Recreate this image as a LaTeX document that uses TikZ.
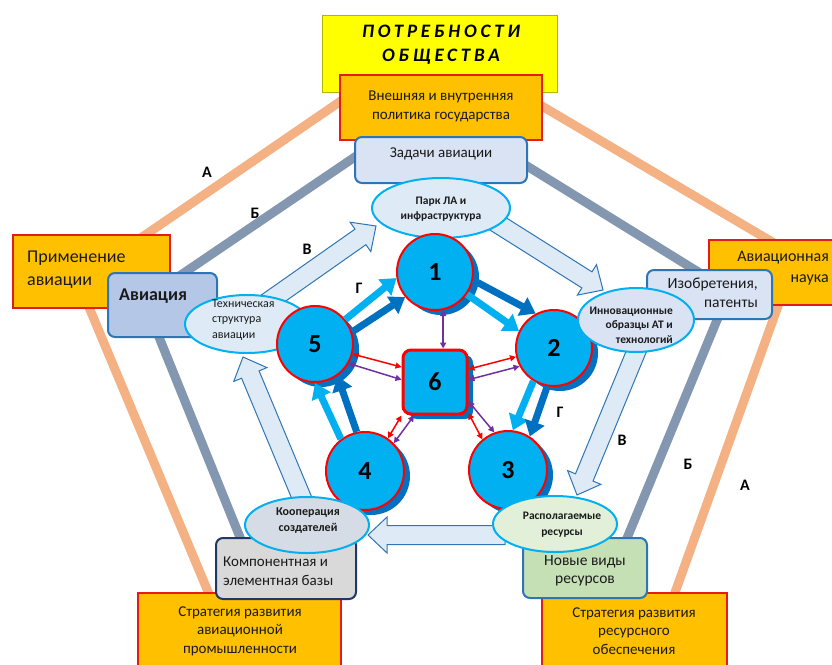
\documentclass[tikz,border=0pt]{standalone}
\usepackage{fontspec}
\setmainfont{Carlito}
\newfontfamily\spacedfont[LetterSpace=20]{Carlito}
\usetikzlibrary{calc,arrows.meta,shapes.geometric}
\definecolor{linA}{HTML}{F4B183}
\definecolor{linB}{HTML}{8497B0}
\definecolor{yel}{HTML}{FFFF00}
\definecolor{yelb}{HTML}{B5B500}
\definecolor{org}{HTML}{FFC000}
\definecolor{redb}{HTML}{E41B17}
\definecolor{blueb}{HTML}{2E75B6}
\definecolor{lblue}{HTML}{DAE3F3}
\definecolor{avblue}{HTML}{B4C7E7}
\definecolor{lgreen}{HTML}{C5E0B4}
\definecolor{lgray}{HTML}{D9D9D9}
\definecolor{navyb}{HTML}{203864}
\definecolor{cyanb}{HTML}{00B0F0}
\definecolor{ellblue}{HTML}{DEEBF7}
\definecolor{ellgreen}{HTML}{E2F0D9}
\definecolor{ellgray}{HTML}{D6DCE5}
\definecolor{ballc}{HTML}{00B0F0}
\definecolor{shadc}{HTML}{0070C0}
\definecolor{arrfill}{HTML}{DEEBF7}
\definecolor{purp}{HTML}{7030A0}
\definecolor{txtc}{HTML}{1A1A1A}
\tikzset{
  lineA/.style={draw=linA, line width=9pt},
  lineB/.style={draw=linB, line width=9pt},
  yelbox/.style={rectangle, draw=yelb, line width=1pt, fill=yel, inner sep=0pt},
  orgbox/.style={rectangle, draw=redb, line width=2pt, fill=org, inner sep=0pt},
  rbox/.style={rectangle, draw=blueb, line width=2pt, rounded corners=7pt, inner sep=0pt},
  ell/.style={ellipse, draw=cyanb, line width=2pt, inner sep=0pt},
  ball/.style={circle, draw=red, line width=2pt, fill=ballc, inner sep=0pt,
    font=\fontsize{26}{30}\selectfont\bfseries,
    preaction={fill=shadc, transform canvas={shift={(6pt,-5pt)}}}},
  sqball/.style={rectangle, rounded corners=8pt, draw=red, line width=3pt, fill=ballc, inner sep=0pt,
    minimum size=64pt, font=\fontsize{26}{30}\selectfont\bfseries,
    preaction={fill=shadc, transform canvas={shift={(6pt,-5pt)}}}},
  bigarr/.style={draw=blueb, line width=1pt, fill=arrfill, line join=miter},
  fatarr/.style={line width=7pt, -{Triangle[length=15pt,width=20pt]}},
  thinarr/.style={line width=1.5pt, {Triangle[length=6pt,width=6pt]}-{Triangle[length=6pt,width=6pt]}},
  txt/.style={inner sep=0pt, text=txtc},
  lab/.style={inner sep=0pt, font=\fontsize{16}{18}\selectfont\bfseries}
}
\newcommand\bigarrow[2]{%
  \coordinate (ba-s) at (#1);
  \coordinate (ba-e) at (#2);
  \coordinate (ba-c) at ($(ba-e)!19pt!(ba-s)$);
  \draw[bigarr] ($(ba-s)!9.5pt!90:(ba-e)$) -- ($(ba-c)!9.5pt!90:(ba-e)$) -- ($(ba-c)!18pt!90:(ba-e)$) -- (ba-e) -- ($(ba-c)!18pt!-90:(ba-e)$) -- ($(ba-c)!9.5pt!-90:(ba-e)$) -- ($(ba-s)!9.5pt!-90:(ba-e)$) -- cycle;}
\begin{document}
\begin{tikzpicture}[x=1pt,y=-1pt]
\useasboundingbox (0,0) rectangle (832,664);
% pentagon lines
\coordinate (pAt) at (430,40);
\coordinate (pAl) at (78,281);
\coordinate (pAr) at (796,256);
\coordinate (pAbl) at (222,625);
\coordinate (pAbr) at (668,612);
\draw[lineA] (pAbl) -- (pAl) -- (pAt) -- (pAr) -- (pAbr);
\coordinate (pBt) at (430,106);
\coordinate (pBl) at (144,300);
\coordinate (pBr) at (729,291);
\coordinate (pBbl) at (250,562);
\coordinate (pBbr) at (618,560);
\draw[lineB] (pBbl) -- (pBl) -- (pBt) -- (pBr) -- (pBbr);
% boxes
\node[yelbox, minimum width=235pt, minimum height=77pt] (potr) at (439.5,53.5) {};
\node[orgbox, minimum width=202pt, minimum height=65pt] (polit) at (441,107.5) {};
\node[rbox, fill=lblue, minimum width=172pt, minimum height=46pt] (zad) at (441,160) {};
\node[orgbox, minimum width=157pt, minimum height=73pt] (prim) at (91.5,271.5) {};
\node[rbox, fill=avblue, minimum width=109pt, minimum height=64pt] (avia) at (162.5,305) {};
\node[orgbox, minimum width=131pt, minimum height=65pt] (nauka) at (774.5,272.5) {};
\node[rbox, fill=lblue, minimum width=125pt, minimum height=49pt] (izob) at (709.5,294.5) {};
\node[orgbox, minimum width=203pt, minimum height=79pt] (stratA) at (239.5,632.5) {};
\node[rbox, draw=navyb, fill=lgray, minimum width=140pt, minimum height=61pt] (komp) at (286,568.5) {};
\node[orgbox, minimum width=185pt, minimum height=79pt] (stratR) at (634.5,632.5) {};
\node[rbox, fill=lgreen, minimum width=124pt, minimum height=60pt] (novye) at (585,568) {};
% big hollow arrows
\coordinate (vA1) at (265,304); \coordinate (vA2) at (376,226);
\coordinate (vB1) at (495,222); \coordinate (vB2) at (603,290);
\coordinate (vC1) at (641,340); \coordinate (vC2) at (577,495);
\coordinate (vD1) at (505,535); \coordinate (vD2) at (368,535);
\coordinate (vE1) at (306,508); \coordinate (vE2) at (243,357);
\bigarrow{vA1}{vA2}
\bigarrow{vB1}{vB2}
\bigarrow{vC1}{vC2}
\bigarrow{vD1}{vD2}
\bigarrow{vE1}{vE2}
% ellipses under circles
\node[ell, fill=ellblue, minimum width=124pt, minimum height=58pt] (tech) at (247,324) {};
\node[ell, fill=ellblue, minimum width=138pt, minimum height=60pt] (park) at (441,208) {};
% circles
\node[ball, minimum size=76pt] (c1) at (435,272) {1};
\node[ball, minimum size=76pt] (c2) at (554,348) {2};
\node[ball, minimum size=78pt] (c3) at (508,470) {3};
\node[ball, minimum size=78pt] (c4) at (365,471) {4};
\node[ball, minimum size=76pt] (c5) at (315,344) {5};
\node[sqball] (c6) at (435,382) {6};
% thick arrows
\draw[fatarr, shadc] (c5.18) -- (c1.220);
\draw[fatarr, ballc] (c5.39) -- (c1.189);
\draw[fatarr, shadc] (c1.-12) -- (c2.118);
\draw[fatarr, ballc] (c1.-35) -- (c2.154);
\draw[fatarr, ballc] (c2.238) -- (c3.83);
\draw[fatarr, shadc] (c2.260) -- (c3.57);
\draw[fatarr, ballc] (c4.127) -- (c5.270);
\draw[fatarr, shadc] (c4.102) -- (c5.305);
% thin double arrows
\draw[thinarr, purp] (c1.-78) -- (c1.-78 |- c6.north);
\draw[thinarr, red] (c5.-15) -- (c6.156);
\draw[thinarr, purp] (c5.-30) -- (c6.176);
\draw[thinarr, red] (c2.193) -- (c6.21);
\draw[thinarr, purp] (c2.208) -- (c6.4);
\draw[thinarr, red] (c6.225) -- (c4.55);
\draw[thinarr, purp] (c6.238) -- (c4.44);
\draw[thinarr, red] (c6.-43) -- (c3.130);
\draw[thinarr, purp] (c6.-30) -- (c3.110);
% ellipses over circles
\node[ell, fill=lblue, minimum width=116pt, minimum height=64pt] (innov) at (636,320) {};
\node[ell, fill=ellgreen, minimum width=124pt, minimum height=56pt] (rasp) at (555,524) {};
\node[ell, fill=ellgray, minimum width=124pt, minimum height=56pt] (koop) at (307,525) {};
% texts
\node[txt, font=\fontsize{19}{24}\selectfont\spacedfont\bfseries\itshape, align=center, text=black] (tPotr) at (441,45) {ПОТРЕБНОСТИ\\ОБЩЕСТВА};
\node[txt, font=\fontsize{15}{19}\selectfont, align=center] (tPolit) at (441,106) {Внешняя и внутренняя\\политика государства};
\node[txt, font=\fontsize{15}{19}\selectfont] (tZad) at (441,154) {Задачи авиации};
\node[txt, font=\fontsize{18}{23}\selectfont, align=left, anchor=west] (tPrim) at (27,270) {Применение\\авиации};
\node[txt, font=\fontsize{18}{22}\selectfont\bfseries, anchor=west] (tAvia) at (119,296) {Авиация};
\node[txt, font=\fontsize{16}{21}\selectfont, align=right, anchor=east] (tNauka) at (829,268) {Авиационная\\наука};
\node[txt, font=\fontsize{15.5}{19}\selectfont, align=right, anchor=east] (tIzob) at (758,293) {Изобретения,\\патенты};
\node[txt, font=\fontsize{12}{15.5}\selectfont, align=left, anchor=west] (tTech) at (212,320) {Техническая\\структура\\авиации};
\node[txt, font=\fontsize{11.5}{15.5}\selectfont\bfseries, align=center] (tPark) at (441,209) {Парк ЛА и\\инфраструктура};
\node[txt, font=\fontsize{11.5}{14.5}\selectfont\bfseries, align=right, anchor=east] (tInnov) at (673,325) {Инновационные\\образцы АТ и\\технологий};
\node[txt, font=\fontsize{15}{18.5}\selectfont, align=left, anchor=west] (tKomp) at (223,571) {Компонентная и\\элементная базы};
\node[txt, font=\fontsize{15}{18.5}\selectfont, align=center] (tStratA) at (240,631) {Стратегия развития\\авиационной\\промышленности};
\node[txt, font=\fontsize{15.5}{18.5}\selectfont, align=center] (tNovye) at (585,571) {Новые виды\\ресурсов};
\node[txt, font=\fontsize{15}{18.5}\selectfont, align=center] (tStratR) at (634,631) {Стратегия развития\\ресурсного\\обеспечения};
\node[txt, font=\fontsize{11.5}{16}\selectfont\bfseries, align=center] (tRasp) at (562,525) {Располагаемые\\ресурсы};
\node[txt, font=\fontsize{12}{16}\selectfont\bfseries, align=center] (tKoop) at (308,521) {Кооперация\\создателей};
% labels
\node[lab] (lA1) at (207,172) {А};
\node[lab] (lB1) at (255,213) {Б};
\node[lab] (lV1) at (307,249) {В};
\node[lab] (lG1) at (359,288) {Г};
\node[lab] (lG2) at (560,412) {Г};
\node[lab] (lV2) at (622,440) {В};
\node[lab] (lB2) at (688,464) {Б};
\node[lab] (lA2) at (745,485) {А};
\end{tikzpicture}
\end{document}
